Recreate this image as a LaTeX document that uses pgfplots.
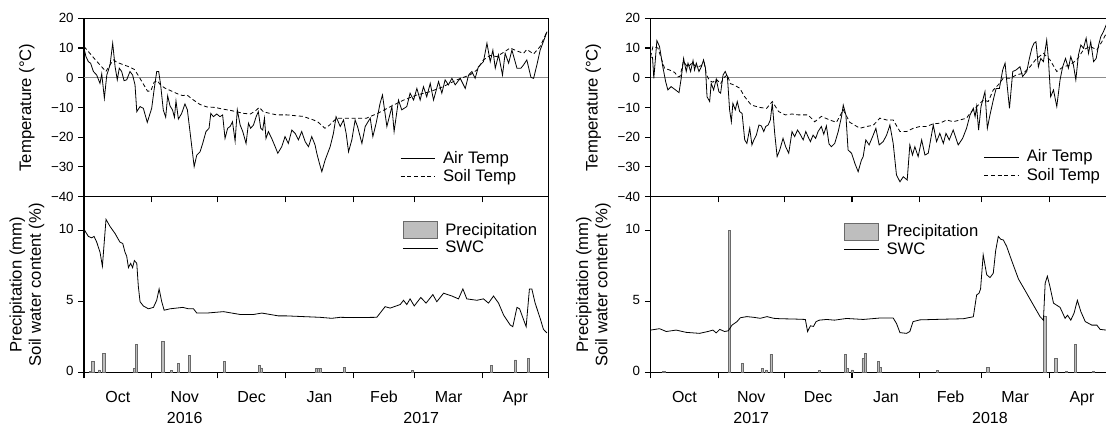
\documentclass[border=0pt]{standalone}
\usepackage{pgfplots}
\pgfplotsset{compat=1.18}
\usepackage{fontspec}
\setmainfont{Liberation Sans}
\definecolor{pfill}{HTML}{BEBEBE}
\definecolor{pdraw}{HTML}{6A6A6A}

\pgfplotstableread{
d t
0 9.9
0.9 7.1
2.0 5.4
3.0 4.9
4.3 2.1
5.8 0.9
7.3 -1.9
8.1 1.3
9.3 -6.9
10.4 0.9
11.9 4.3
13.1 11.6
14.2 3.7
15.2 -0.7
16.1 3.2
17.2 2.1
18.3 -1.0
19.5 -0.7
21.0 2.1
22.2 0.9
23.3 -2.4
24.1 -11.4
25.6 -9.7
27.1 -10.3
28.9 -15.0
30.9 -10.3
32.0 -4.1
33.2 2.1
34.1 2.1
35.0 -2.4
36.2 -10.8
37.3 -13.3
38.2 -6.1
39.3 -9.5
40.4 -10.8
41.3 -13.3
42.0 -7.8
43.1 -13.9
44.6 -12.0
46.1 -8.8
47.2 -10.8
48.4 -18.1
50.3 -29.9
51.5 -26.0
53.0 -24.9
54.2 -22.1
55.7 -18.1
57.1 -17.0
57.9 -12.0
59.1 -13.1
60.6 -12.2
62.1 -13.1
63.3 -12.5
64.4 -20.4
65.6 -17.0
66.7 -16.4
67.8 -14.8
69.0 -21.3
70.0 -10.8
71.3 -15.9
72.5 -18.1
74.0 -22.1
75.1 -15.3
76.1 -17.0
77.4 -15.9
78.6 -13.1
79.6 -11.4
80.7 -17.0
81.6 -17.6
82.4 -13.6
83.1 -20.4
84.2 -18.1
85.7 -20.4
87.3 -23.2
88.5 -25.4
90.3 -23.2
91.8 -19.8
93.3 -22.1
94.9 -17.6
96.4 -18.7
97.9 -20.9
99.4 -18.1
101.0 -21.5
102.5 -23.2
104.0 -19.8
105.5 -22.6
106.3 -25.4
107.5 -28.8
108.6 -31.6
110.1 -27.7
112.4 -23.2
113.9 -18.7
115.1 -13.1
117.0 -16.4
118.5 -14.2
119.7 -18.7
120.8 -24.9
122.3 -20.9
123.8 -14.2
124.9 -16.4
126.9 -22.1
128.4 -16.4
130.7 -13.6
131.9 -19.8
133.4 -15.3
135.2 -8.6
136.3 -5.8
138.3 -16.4
140.6 -9.7
141.6 -18.1
143.6 -7.5
145.1 -10.8
147.4 -9.7
148.9 -5.2
150.5 -7.5
152.0 -3.6
153.5 -7.5
155.0 -3.0
156.5 -6.4
158.1 -1.9
159.6 -7.5
161.9 -1.3
163.4 -5.2
164.9 -0.7
166.4 -2.4
168.0 -0.2
169.5 -2.4
171.8 -0.2
174.1 -3.6
175.6 0.9
177.1 2.1
178.6 -0.2
180.1 3.7
182.4 5.4
184.0 11.6
185.5 5.4
186.7 9.3
187.8 3.2
189.3 7.7
191.1 0.9
192.3 8.2
193.9 4.9
195.4 9.3
197.7 3.2
199.5 3.2
200.7 4.3
202.2 6.0
204.1 0.1
205.3 -0.2
206.8 4.3
208.3 9.3
210.6 13.8
211.4 15.5
}\Lair

\pgfplotstableread{
d t
0 10.5
2 8.8
5 6.2
7.3 4.3
10 2.1
12 4.5
13.5 6.0
15 5.2
17.5 4.5
20.5 3.7
23 2.8
25 0.5
27 -2.0
29 -4.5
30.5 -4.5
32 -1.5
33.5 -1.0
35 -2.5
37 -3.5
40 -4.5
43 -5.5
45 -6.0
47 -5.8
50 -7.5
53 -9.0
56 -9.8
60 -10.0
63 -10.5
67 -11.0
70 -11.5
73 -12.0
76 -12.2
78.5 -11.0
80 -10.0
82 -11.5
85 -12.0
88 -12.5
92.6 -12.5
100 -13.0
104.8 -14.2
107 -15.0
110 -17.0
112 -16.0
115.4 -13.6
123 -13.6
129 -13.6
134 -12.0
140 -9.7
146 -7.5
152 -5.8
158 -4.7
164 -3.0
170 -0.8
176.4 1.0
179.4 2.6
182.4 6.0
185.5 7.5
188.5 7.1
191.5 8.5
194.6 10.0
197.7 9.0
200.7 8.2
202.2 9.5
205.3 8.0
208.3 10.5
211.4 15.5
}\Lsoil

\pgfplotstableread{
d v
0 10.1
2 9.6
3.5 9.5
4.6 9.6
5.8 9.2
7.3 8.5
8.4 7.5
10.05 10.8
11.9 10.3
14.2 9.8
16.4 9.2
17.7 9.1
18.7 8.5
19.5 8.2
20.3 7.4
21.3 7.7
22.2 7.4
23 7.9
24.1 7.7
24.8 6.1
25.6 5.0
27.1 4.7
29.4 4.5
31.7 4.6
33.2 5.1
34.3 5.9
35.5 5.0
36.6 4.4
39.3 4.5
45.1 4.6
47.7 4.5
50 4.5
51.5 4.2
56.1 4.2
63.7 4.3
71.3 4.1
77.4 4.1
81.2 4.2
88.8 4.0
92.6 4.0
100.2 3.95
107.8 3.9
113.1 3.83
117 3.9
123 3.88
133.7 3.9
137.5 4.65
139.8 4.55
144.4 4.8
145.9 5.1
147.4 4.8
148.9 5.2
150.8 4.7
153.8 5.3
156.2 4.9
159.3 5.5
161.1 5.0
164.2 5.6
168 5.4
171 5.2
173 5.9
174.8 5.2
179.4 5.1
182.4 5.2
184.7 4.9
187 5.4
189.3 4.9
191.6 4.06
194.6 3.36
195.8 3.24
197.7 4.6
198.9 4.5
201.9 3.24
203.4 5.9
204.5 5.9
206 4.9
208.3 3.83
209.8 3.05
211.4 2.8
}\Lswc

\pgfplotstableread{
d p
3 0.07
4 0.77
7 0.2
9 1.36
23 0.3
24 2.0
36 2.2
40 0.16
43 0.68
48 1.22
64 0.8
80 0.52
81 0.33
106 0.3
107 0.3
108 0.3
119 0.35
150 0.14
186 0.52
197 0.9
203 1.0
}\Lpre

\pgfplotstableread{
d t
0 6.9
0.9 6.9
1.5 -0.2
2.9 12.5
4.1 10.5
5.6 3.7
6.9 -1.3
7.9 -4.1
9.4 -3.0
11.4 -4.1
13.0 -5.0
14.0 -0.2
15.1 6.5
16.3 2.1
17.1 4.9
18.3 2.1
19.4 5.8
20.1 2.6
20.9 4.9
22.1 2.1
23.2 3.7
24.2 6.0
25.1 3.2
25.8 -6.4
27.0 -8.0
27.7 -1.9
28.8 -4.1
30.0 -0.5
31.2 -4.7
32.0 -5.2
33.1 0.9
34.1 2.1
35.1 0.4
36.1 -10.8
36.9 -14.8
37.6 -8.6
38.7 -10.8
39.6 -8.0
40.7 -11.4
41.8 -12.0
43.0 -20.9
44.0 -22.1
45.3 -17.0
46.3 -22.6
47.2 -20.9
48.3 -19.3
49.5 -15.9
50.6 -16.2
51.7 -18.1
52.6 -16.4
53.7 -15.9
54.7 -14.2
55.6 -8.6
56.7 -18.7
57.8 -26.5
59.0 -24.3
60.5 -20.4
61.7 -23.2
63.1 -25.4
64.6 -18.1
65.8 -19.8
67.1 -17.6
68.1 -18.7
69.7 -20.9
70.9 -18.1
71.9 -19.8
73.0 -21.5
74.2 -19.3
75.4 -20.4
76.5 -18.1
78.0 -16.4
79.1 -19.0
80.3 -16.2
81.5 -22.3
82.6 -23.2
84.1 -22.1
85.7 -18.1
87.2 -13.1
88.0 -9.2
89.2 -12.5
90.2 -24.3
91.8 -25.4
93.3 -28.8
94.8 -31.6
96.3 -27.7
97.1 -26.5
98.3 -20.9
99.8 -22.6
101.4 -19.8
102.9 -17.0
104.4 -22.6
106.2 -21.5
107.8 -19.3
109.3 -15.9
110.8 -22.1
112.3 -32.7
113.9 -35.0
115.4 -33.3
117.2 -34.4
118.4 -22.6
119.6 -26.0
120.7 -23.2
122.2 -26.5
123.8 -20.9
125.3 -26.0
126.8 -25.4
129.1 -15.9
130.6 -21.5
132.1 -18.7
133.7 -22.1
134.9 -18.7
136.4 -20.9
138.2 -17.6
140.5 -22.6
142.5 -20.4
144.3 -17.0
145.9 -12.5
147.4 -10.3
148.2 -13.1
148.9 -9.7
149.8 -17.6
150.9 -9.7
151.7 -7.5
152.7 -4.7
153.8 -17.0
155.0 -12.5
156.5 -7.5
157.8 -3.6
159.3 -3.6
160.8 2.6
161.9 4.9
162.6 -0.7
163.9 -10.3
165.4 2.1
166.9 2.6
168.7 3.7
169.9 0.4
171.8 2.1
173.0 6.5
174.1 9.9
175.1 11.6
176.0 12.1
177.1 3.7
178.2 6.5
179.4 5.4
180.9 12.7
181.7 6.0
182.7 -6.4
184.0 -4.1
185.5 -9.7
187.0 -0.7
188.2 3.7
189.5 6.5
190.8 3.2
191.9 7.1
193.1 4.3
194.2 -0.7
195.4 7.7
196.5 11.0
197.7 9.9
198.9 13.3
200.0 8.2
201.0 12.1
202.3 5.4
203.5 6.5
204.6 11.0
205.6 13.8
206.8 15.5
208.1 17.8
211 17.0
}\Rair

\pgfplotstableread{
d t
0 7.0
1.1 10.5
3.4 10.0
4.9 6.5
6.4 3.2
8.7 2.6
11 1.8
12.5 0.3
13.5 0.5
15 5.5
17 3.5
19 5.0
21 3.5
23 4.0
24.5 5.0
25.5 1.0
27 -1.0
28.5 -1.5
30 -0.5
32 -2.0
33.5 0.0
35 1.0
36.5 -2.0
38 -2.4
40.7 -3.5
43 -6.4
46 -9.2
50 -10.0
53 -10.3
55.6 -8.0
58.5 -11.4
61.5 -12.5
64.6 -12.2
67.6 -12.5
71.9 -12.5
75 -14.8
78 -13.0
81.8 -14.2
84.9 -15.0
88 -10.8
91 -15.0
95.6 -17.0
98.6 -16.4
101.7 -16.0
104.7 -13.6
107.8 -14.2
110.8 -14.2
113.9 -18.1
116.9 -18.1
120 -17.0
123 -16.4
126 -16.4
129.1 -15.5
132.1 -15.3
135.2 -14.2
138.2 -14.8
141.3 -14.2
144.3 -13.6
145.9 -11.9
148.9 -9.7
152 -7.5
154.2 -8.0
156.5 -4.1
158.8 -2.4
161 -0.2
164.2 -0.2
167.2 1.0
170.3 1.5
173.3 3.7
176.3 6.5
179.4 8.2
182.4 6.0
185.5 2.1
188.5 3.7
191.6 4.3
194.6 6.0
197.7 9.4
200.7 10.5
203.8 9.4
206.1 12.1
208.1 14.9
211 16.0
}\Rsoil

\pgfplotstableread{
d v
0 3.0
4.1 3.1
7.2 2.9
11.7 3.0
16.3 2.84
22.4 2.77
26.2 2.9
28.5 3.0
30 2.8
31.6 3.05
33.8 2.9
35.5 2.95
37.2 3.35
39.5 3.6
41 3.87
44 3.95
47.1 3.9
50.1 3.83
53.2 3.95
56.2 3.83
59.3 3.8
65.4 3.78
70.7 3.75
71.7 2.9
73 3.3
74.4 3.26
75.6 3.6
77.1 3.7
80.4 3.75
84 3.7
89.5 3.82
97.1 3.75
104.7 3.85
110.8 3.85
112.3 3.47
113.9 2.82
116.9 2.77
118.4 2.9
119.9 3.6
123 3.72
132.1 3.76
142.8 3.8
147.4 3.94
148.9 5.47
150 5.6
150.7 5.9
151.9 8.3
153.5 6.9
155 6.7
156.5 7.0
157.6 8.6
158.8 9.6
159.9 9.4
161.1 9.35
162.6 8.9
164.9 7.9
168 6.6
171 5.8
174.8 4.77
177.9 3.94
179.4 3.7
180.2 6.3
181.2 6.8
182.4 6.05
184 4.9
187 4.6
189.3 3.83
190.4 4.05
191.9 3.7
193.4 4.2
194.9 5.1
196.5 4.3
198.5 3.6
201.5 3.35
203.8 3.35
205.3 3.05
208.1 3.0
211 2.95
}\Rswc

\pgfplotstableread{
d p
6 0.07
36 10.0
42 0.66
51 0.3
53 0.19
55 1.3
77 0.16
89 1.3
90 0.3
92 0.19
97 1.0
98 1.36
104 0.77
105 0.38
131 0.16
154 0.38
180 4.0
185 1.0
190 0.07
194 2.0
202 0.07
}\Rpre

\pgfplotsset{
  base/.style={scale only axis, width=348.2pt, xmin=0, xmax=212,
    axis line style={line width=0.8pt},
    every tick/.style={black, line width=0.8pt},
    tick align=outside, major tick length=4.25pt,
    xtick pos=bottom, ytick pos=left,
    yticklabel style={font=\fontsize{10}{12}\selectfont},
    legend cell align=left,
    clip mode=individual},
  top/.style={base, height=133.8pt, ymin=-40, ymax=20,
    ytick={-40,-30,-20,-10,0,10,20},
    yticklabels={−40,−30,−20,−10,0,10,20},
    xtick={31,61,92,123,151,182}, xticklabels={},
    ylabel={Temperature (°C)},
    ylabel style={at={(axis description cs:-0.123,0.5)}, anchor=center,
      font=\fontsize{12.5}{15}\selectfont},
    extra y ticks={0}, extra y tick labels={},
    extra y tick style={grid=major, major grid style={color=black!45, line width=0.6pt}},
    legend style={draw=none, fill=none, anchor=north west,
      font=\fontsize{12.5}{15}\selectfont, row sep=0pt, column sep=4pt, nodes={inner sep=1.5pt}}},
  bot/.style={base, height=132pt, ymin=0, ymax=12.4,
    ytick={0,5,10}, yticklabels={0,5,10},
    xtick={0,31,61,92,123,151,182,212},
    xticklabels={Oct,Nov,Dec,Jan,Feb,Mar,Apr,},
    x tick label as interval,
    typeset ticklabels with strut,
    xticklabel style={font=\fontsize{12}{14}\selectfont, yshift=-4.5pt},
    ylabel={Precipitation (mm)\\Soil water content (\%)},
    ylabel style={at={(axis description cs:-0.123,0.5)}, anchor=center, align=center,
      font=\fontsize{12.5}{14.5}\selectfont},
    legend style={draw=none, fill=none, anchor=north west,
      font=\fontsize{12.5}{15}\selectfont, row sep=0pt, column sep=4pt, nodes={inner sep=1.5pt}}},
  lineleg/.style={legend image code/.code={\draw[##1] (0pt,0pt) -- (26pt,0pt);}},
  barleg/.style={legend image code/.code={\draw[fill=pfill, draw=pdraw, line width=0.5pt] (0pt,-6.3pt) rectangle (26pt,6.3pt);}},
  airl/.style={black, line width=0.6pt, lineleg},
  soill/.style={black, line width=0.6pt, dash pattern=on 3pt off 2pt, lineleg},
  swcl/.style={black, line width=0.6pt, lineleg},
  prel/.style={ybar, bar width=1, bar shift=0pt, fill=pfill, draw=pdraw, line width=0.4pt, barleg},
}

\begin{document}
\begin{tikzpicture}
\path[use as bounding box] (0,0) rectangle (829.5pt,-318.75pt);

% left top
\begin{axis}[top, at={(63pt,-13.7pt)}, anchor=north west,
  legend style={at={(0.672,0.283)}}]
\addplot[airl] table[x=d,y=t] {\Lair};
\addlegendentry{Air Temp}
\addplot[soill] table[x=d,y=t] {\Lsoil};
\addlegendentry{Soil Temp}
\end{axis}

% left bottom
\begin{axis}[bot, at={(63pt,-147.5pt)}, anchor=north west,
  legend style={at={(0.677,0.878)}}]
\addplot[prel] table[x=d,y=p] {\Lpre};
\addlegendentry{Precipitation}
\addplot[swcl] table[x=d,y=v] {\Lswc};
\addlegendentry{SWC}
\node[anchor=base, font=\fontsize{12}{14}\selectfont] at (axis cs:46,0) [yshift=-38.2pt] {2016};
\node[anchor=base, font=\fontsize{12}{14}\selectfont] at (axis cs:154,0) [yshift=-38.2pt] {2017};
\end{axis}

% right top
\begin{axis}[top, at={(487.9pt,-13.7pt)}, anchor=north west,
  legend style={at={(0.709,0.29)}}]
\addplot[airl] table[x=d,y=t] {\Rair};
\addlegendentry{Air Temp}
\addplot[soill] table[x=d,y=t] {\Rsoil};
\addlegendentry{Soil Temp}
\end{axis}

% right bottom
\begin{axis}[bot, at={(487.9pt,-147.5pt)}, anchor=north west,
  legend style={at={(0.407,0.869)}}]
\addplot[prel] table[x=d,y=p] {\Rpre};
\addlegendentry{Precipitation}
\addplot[swcl] table[x=d,y=v] {\Rswc};
\addlegendentry{SWC}
\node[anchor=base, font=\fontsize{12}{14}\selectfont] at (axis cs:46,0) [yshift=-38.2pt] {2017};
\node[anchor=base, font=\fontsize{12}{14}\selectfont] at (axis cs:155,0) [yshift=-38.2pt] {2018};
\end{axis}
\end{tikzpicture}
\end{document}
